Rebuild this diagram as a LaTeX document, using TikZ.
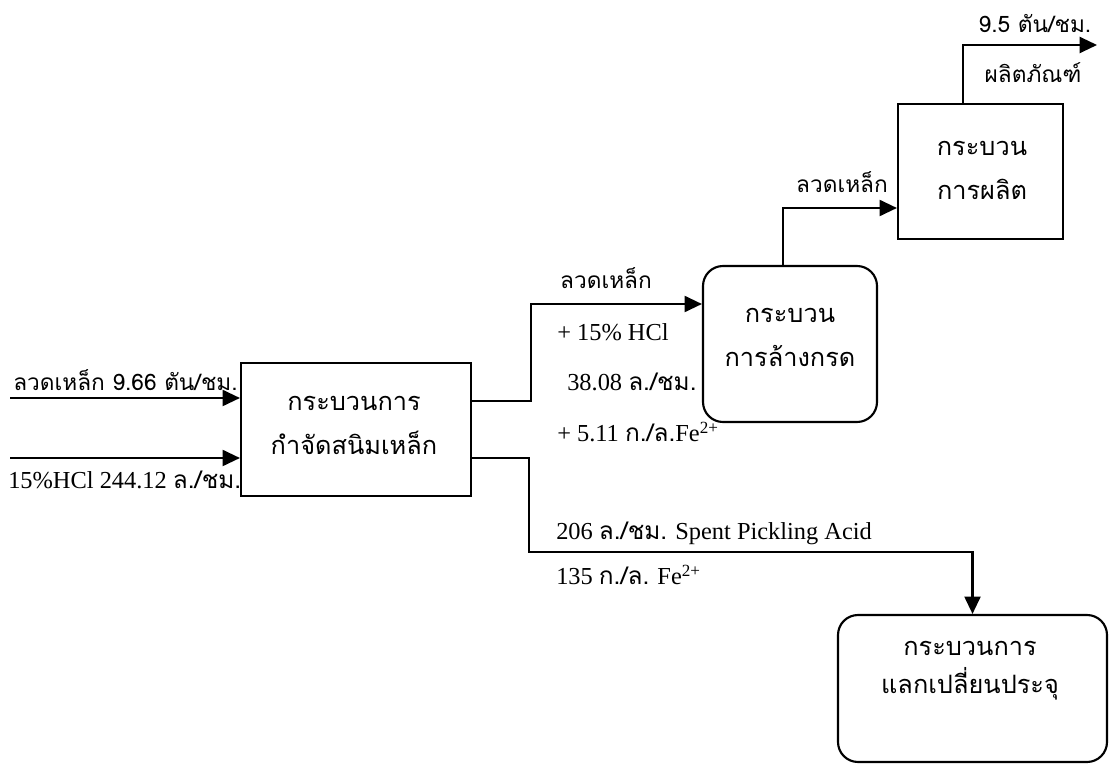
\documentclass[tikz,border=0pt]{standalone}
\usepackage{fontspec}
\setmainfont{Liberation Serif}
\newfontfamily\thaifont[Script=Thai]{Loma}
\usetikzlibrary{arrows.meta}
\newcommand{\tf}[1]{{\thaifont #1}}
\tikzset{
  arr/.style={line width=1.6pt,-{Triangle[length=13pt,width=12pt]}},
  procbox/.style={draw,line width=1.6pt,inner sep=0pt},
  roundbox/.style={draw,line width=1.6pt,rounded corners=15pt,inner sep=0pt},
  thaitext/.style={font=\thaifont\fontsize{19pt}{33pt}\selectfont,align=center},
  lbl/.style={font=\fontsize{17pt}{20pt}\selectfont,inner sep=0pt},
  serlbl/.style={font=\fontsize{18.3pt}{21pt}\selectfont,inner sep=0pt},
}
\begin{document}
\begin{tikzpicture}[x=0.75pt,y=-0.75pt]
\useasboundingbox (0,0) rectangle (1114,766);
% boxes
\node[procbox,minimum width=172.5pt,minimum height=99.75pt] (A) at (356,429.5) {};
\node[roundbox,minimum width=130.5pt,minimum height=117pt] (B) at (790,344) {};
\node[procbox,minimum width=123.75pt,minimum height=101.25pt] (C) at (980.5,171.5) {};
\node[roundbox,minimum width=201.75pt,minimum height=110.25pt] (D) at (972.5,688.5) {};
% box texts
\node[thaitext] (Atxt) at (354,425) {กระบวนการ\\กำจัดสนิมเหล็ก};
\node[thaitext] (Btxt) at (790,337.5) {กระบวน\\การล้างกรด};
\node[thaitext] (Ctxt) at (982,170.5) {กระบวน\\การผลิต};
\node[thaitext,font=\thaifont\fontsize{19pt}{28.5pt}\selectfont] (Dtxt) at (970,671) {กระบวนการ\\แลกเปลี่ยนประจุ};
% inputs
\coordinate (i1) at (10,398);
\coordinate (i2) at (10,458);
\draw[arr] (i1) -- (i1 -| A.west);
\draw[arr] (i2) -- (i2 -| A.west);
\node[lbl,anchor=west] (l1) at (13,380) {\tf{ลวดเหล็ก 9.66 ตัน/ชม.}};
\node[serlbl,anchor=west] (l2) at (8,480) {15\%HCl 244.12 \tf{ล./ชม.}};
% A -> B
\coordinate (ab1) at (531,401);
\coordinate (ab2) at (531,304);
\draw[arr] (A.east |- ab1) -- (ab1) -- (ab2) -- (ab2 -| B.west);
\node[lbl] (l3) at (606,278) {\tf{ลวดเหล็ก}};
\node[serlbl,anchor=west] (l4) at (557,332) {+ 15\% HCl};
\node[serlbl,anchor=west] (l5) at (567,382) {38.08 \tf{ล./ชม.}};
\node[serlbl,anchor=west] (l6) at (557,432) {+ 5.11 \tf{ก./ล.}Fe\textsuperscript{2+}};
% A -> D
\coordinate (ad1) at (529,458);
\coordinate (ad2) at (529,552);
\draw[arr] (A.east |- ad1) -- (ad1) -- (ad2) -- (ad2 -| D.north) -- (D.north);
\node[serlbl,anchor=west] (l7) at (556,533) {206 \tf{ล./ชม.} Spent Pickling Acid};
\node[serlbl,anchor=west] (l8) at (556,575) {135 \tf{ก./ล.} Fe\textsuperscript{2+}};
% B -> C
\coordinate (bc1) at (783,208);
\draw[arr] (B.north -| bc1) -- (bc1) -- (bc1 -| C.west);
\node[lbl] (l9) at (842,182) {\tf{ลวดเหล็ก}};
% C -> out
\coordinate (co1) at (963,45);
\coordinate (co2) at (1097,45);
\draw[arr] (C.north -| co1) -- (co1) -- (co2);
\node[lbl] (l10) at (1035,24) {\tf{9.5 ตัน/ชม.}};
\node[lbl] (l11) at (1033,73) {\tf{ผลิตภัณฑ์}};
\end{tikzpicture}
\end{document}
